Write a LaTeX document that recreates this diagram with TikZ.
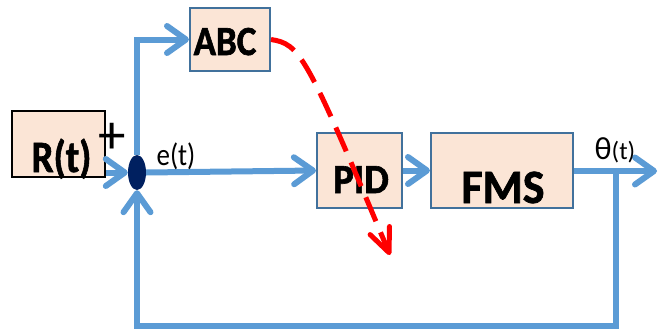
\documentclass[tikz,border=0pt]{standalone}
\usepackage{fontspec}
\setmainfont{Carlito}[BoldFeatures={FakeBold=1.5}]
\usetikzlibrary{arrows.meta,shapes.geometric}

\definecolor{peach}{HTML}{FBE5D6}
\definecolor{boxedge}{HTML}{41719C}
\definecolor{flowblue}{HTML}{5B9BD5}
\definecolor{navy}{HTML}{002060}

\tikzset{
  block/.style={rectangle, draw=boxedge, line width=2pt, fill=peach, inner sep=0pt},
  flow/.style={draw=flowblue, line width=6pt,
    -{Straight Barb[length=19pt,width=27pt,line cap=round,line join=round]}},
  ctrl/.style={draw=red, line width=5pt, dash pattern=on 26pt off 12pt,
    -{Straight Barb[length=24pt,width=21pt,line cap=round,line join=round]}},
  bigtxt/.style={inner sep=0pt, anchor=base, font=\bfseries},
  sig/.style={inner sep=0pt, anchor=base}
}

\begin{document}
\begin{tikzpicture}[x=1pt,y=-1pt]
  \path[use as bounding box] (0,0) rectangle (658,332);

  % blocks
  \node[block, draw=black, minimum width=93pt, minimum height=66pt] (R) at (58.5,144) {};
  \node[block, minimum width=80pt, minimum height=63pt] (abc) at (230,39.5) {};
  \node[block, minimum width=85pt, minimum height=75pt] (pid) at (359.5,170.5) {};
  \node[block, minimum width=142pt, minimum height=75pt] (fms) at (502,170.5) {};

  % summing junction
  \node[ellipse, fill=navy, minimum width=18pt, minimum height=35pt, inner sep=0pt] (sum) at (137,172.5) {};

  \coordinate (out) at (657,171);
  \coordinate (tap) at (616,171);
  \coordinate (low) at (616,325.5);
  \coordinate (tipc) at (390,255);

  % signal flow
  \draw[flow] (R.east |- sum.west) -- (sum.west);
  \draw[flow] (sum.north) |- (abc.west);
  \draw[flow] (sum.east) -- (pid.west);
  \draw[flow] (pid.east) -- (fms.west);
  \draw[flow] (fms.east |- out) -- (out);
  \draw[flow] (tap) -- (low) -| (sum.south);

  % block labels
  \node[bigtxt] (rtxt) at (61.5,172) {\fontsize{39}{44}\selectfont\scalebox{1}[1.15]{R(t)}};
  \node[bigtxt] (abctxt) at (225,55) {\fontsize{37}{42}\selectfont\scalebox{1}[1.12]{ABC}};
  \node[bigtxt] (pidtxt) at (361,193) {\fontsize{39}{44}\selectfont\scalebox{1}[1.06]{PID}};
  \node[bigtxt] (fmstxt) at (503,203) {\fontsize{46}{50}\selectfont\scalebox{1}[1.04]{FMS}};

  % signal labels
  \node[sig] (plus) at (112,153) {\fontsize{55}{60}\selectfont +};
  \node[sig] (etxt) at (176,165) {\fontsize{27}{30}\selectfont\scalebox{1}[1.15]{e(t)}};
  \node[sig] (thtxt) at (615,159) {{\fontsize{32}{36}\selectfont θ}{\fontsize{25}{28}\selectfont (t)}};

  % tuning path
  \draw[ctrl] (abc.east) .. controls (300,44) and (306,54) .. (tipc);
\end{tikzpicture}
\end{document}
